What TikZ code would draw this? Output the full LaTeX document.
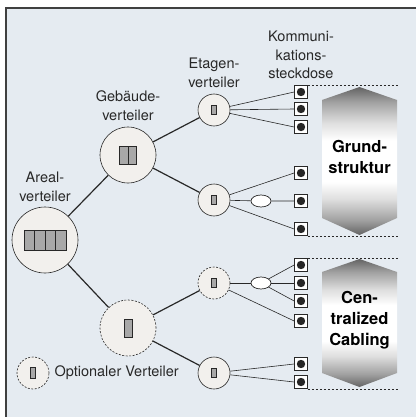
\documentclass[tikz,border=0pt]{standalone}
\usepackage{fontspec}
\setmainfont{TeX Gyre Heros}
\usetikzlibrary{shapes.geometric, positioning, calc}

\definecolor{bgblue}{RGB}{229,235,241}
\definecolor{nodefill}{RGB}{242,240,237}
\definecolor{cellgray}{RGB}{168,168,168}
\definecolor{tipgray}{RGB}{100,100,100}
\definecolor{midgray}{RGB}{160,160,160}
\definecolor{palegray}{RGB}{222,222,222}
\definecolor{inkgray}{RGB}{40,40,40}

\pgfdeclareverticalshading{arrowshade}{100bp}{color(0bp)=(tipgray); color(25bp)=(tipgray); color(30bp)=(midgray); color(37bp)=(palegray); color(43bp)=(white); color(57bp)=(white); color(63bp)=(palegray); color(70bp)=(midgray); color(75bp)=(tipgray); color(100bp)=(tipgray)}

% gray cells inside a distributor: node, count, cell width, cell height
\newcommand{\zellen}[4]{%
  \foreach \k in {1,...,#2}
    \draw[fill=cellgray, draw=inkgray, line width=0.6pt]
      ($(#1.center)+({(\k-1-#2/2)*#3},{-#4/2})$) rectangle ++(#3,#4);
}

\begin{document}
\begin{tikzpicture}[
    x=1pt, y=-1pt,
    vert/.style={draw=inkgray, circle, fill=nodefill, line width=0.6pt, inner sep=0pt},
    optvert/.style={vert, dash pattern=on 2pt off 1.5pt},
    dose/.style={draw=inkgray, fill=white, rectangle, minimum size=13pt, inner sep=0pt, line width=0.7pt,
        path picture={\fill[black!85] (path picture bounding box.center) circle (4.2pt);}},
    knoten/.style={draw=inkgray, fill=white, ellipse, minimum width=20pt, minimum height=12pt, inner sep=0pt, line width=0.7pt},
    lbl/.style={align=center, inner sep=0pt, text=inkgray, font=\fontsize{14.5}{18.5}\selectfont},
    big/.style={align=center, inner sep=0pt, text=black, font=\fontsize{16.5}{21}\selectfont\bfseries},
    stamm/.style={line width=1.2pt, draw=inkgray},
    ast/.style={line width=0.6pt, draw=inkgray},
    grenze/.style={line width=0.6pt, draw=inkgray, dash pattern=on 2.5pt off 1.5pt}
]
\useasboundingbox (0,0) rectangle (416,417);

% Background and frame
\fill[bgblue] (6,8) rectangle (416,417);
\draw[line width=1.3pt, black!75] (6,417) -- (6,8) -- (416,8);

% Distributors
\node[vert, minimum size=66pt] (areal) at (45,240) {};
\node[vert, minimum size=56pt] (geb1) at (128,155) {};
\node[optvert, minimum size=56pt] (geb2) at (128,328) {};
\node[vert, minimum size=32pt] (et1) at (214,110) {};
\node[vert, minimum size=32pt] (et2) at (214,200) {};
\node[optvert, minimum size=32pt] (et3) at (214,283) {};
\node[vert, minimum size=32pt] (et4) at (214,373) {};

\zellen{areal}{4}{10.5}{20}
\zellen{geb1}{2}{8.5}{18}
\zellen{geb2}{1}{8}{18}
\zellen{et1}{1}{5}{9}
\zellen{et2}{1}{5}{9}
\zellen{et3}{1}{5}{9}
\zellen{et4}{1}{5}{9}

% Labels
\node[lbl, above=5pt of areal] (areal_l) {Areal-\\verteiler};
\node[lbl, above=6pt of geb1] (geb_l) {Gebäude-\\verteiler};
\node[lbl, above=6pt of et1] (et_l) {Etagen-\\verteiler};

% Sockets
\foreach \n/\y in {1/92, 2/109, 3/127, 4/173, 5/201, 6/229, 7/265, 8/283, 9/301, 10/321, 11/364, 12/382}
    \node[dose] (d\n) at (301,\y) {};
\node[lbl, above=6pt of d1] (dose_l) {Kommuni-\\kations-\\steckdose};

% Consolidation points
\node[knoten] (kp1) at (261,201) {};
\node[knoten] (kp2) at (261,283) {};

% Tree
\draw[stamm] (areal) -- (geb1);
\draw[stamm] (areal) -- (geb2);
\draw[stamm] (geb1) -- (et1);
\draw[stamm] (geb1) -- (et2);
\draw[stamm] (geb2) -- (et3);
\draw[stamm] (geb2) -- (et4);

% Horizontal cabling
\foreach \n in {1,2,3}
    \draw[ast] (et1) -- (d\n.west);
\draw[ast] (et2) -- (d4.west);
\draw[ast] (et2) -- (kp1) -- (d5.west);
\draw[ast] (et2) -- (d6.west);
\draw[ast] (et3) -- (kp2);
\foreach \n in {7,8,9}
    \draw[ast] (kp2) -- (d\n.west);
\draw[ast] (et3) -- (d10.west);
\draw[ast] (et4) -- (d11.west);
\draw[ast] (et4) -- (d12.west);

% Section limits
\coordinate (rechts) at (398,0);
\draw[grenze] (d1.north east) -- (d1.north east -| rechts);
\draw[grenze] (d6.south east) -- (d6.south east -| rechts);
\draw[grenze] (d7.north east) -- (d7.north east -| rechts);
\draw[grenze] (d12.south east) -- (d12.south east -| rechts);

% Double arrows
\shade[shading=arrowshade] (322,100) -- (359.5,87) -- (397,100) -- (397,218) -- (359.5,235) -- (322,218) -- cycle;
\shade[shading=arrowshade] (322,272) -- (359.5,259) -- (397,272) -- (397,373) -- (359.5,387) -- (322,373) -- cycle;
\node[big] (grund) at (359.5,157) {Grund-\\struktur};
\node[big] (central) at (359.5,320) {Cen-\\tralized\\Cabling};

% Legend
\node[optvert, minimum size=32pt] (legende) at (33,373) {};
\zellen{legende}{1}{5}{11}
\node[lbl, right=5pt of legende] (legende_l) {Optionaler Verteiler};

\end{tikzpicture}
\end{document}
